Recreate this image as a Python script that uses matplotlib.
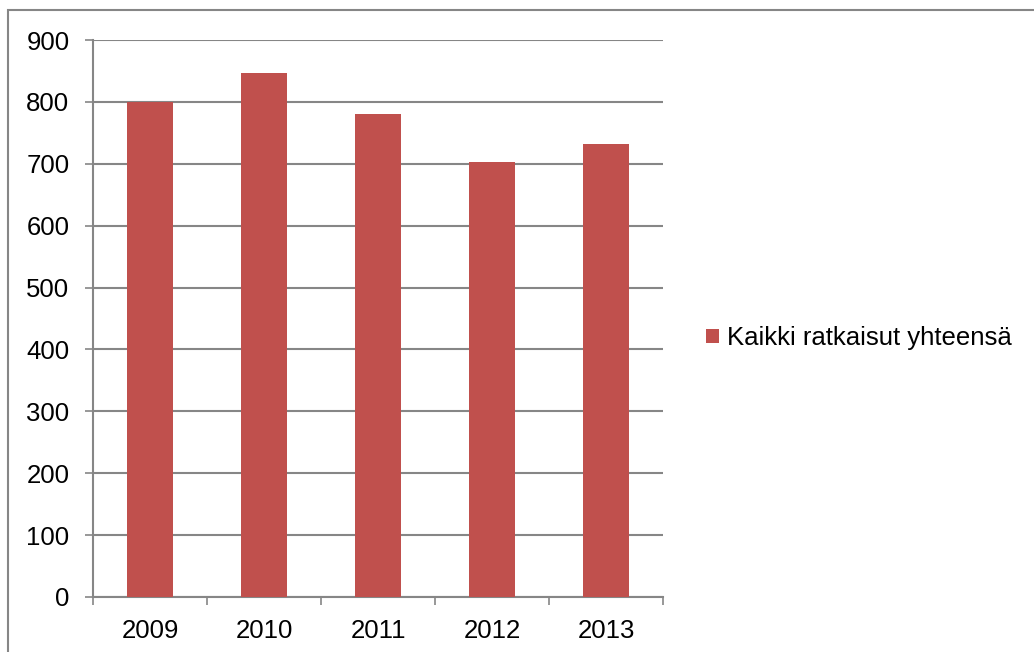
import matplotlib as mpl
import matplotlib.pyplot as plt
from matplotlib.patches import Rectangle

mpl.rcParams['font.family'] = ['Liberation Sans', 'DejaVu Sans']
mpl.rcParams['font.size'] = 18.5

# data
years = ['2009', '2010', '2011', '2012', '2013']
totals = [800, 846, 780, 703, 732]
series_name = 'Kaikki ratkaisut yhteensä'

bar_color = '#C0504D'
grid_color = '#868686'

fig = plt.figure(figsize=(10.34, 6.52), dpi=100)
W, H = 1034, 652

# outer chart border
fig.patches.append(Rectangle((8 / W, -0.01), 1.02, 1 - 10 / H + 0.01,
                             transform=fig.transFigure, fill=False,
                             edgecolor=grid_color, linewidth=1.5))

ax = fig.add_axes([93 / W, 1 - 597 / H, 570 / W, 557 / H])

x = list(range(len(years)))
ax.bar(x, totals, width=0.4, color=bar_color, zorder=3)

ax.set_xlim(-0.5, len(years) - 0.5)
ax.set_ylim(0, 900)
ax.set_yticks(range(0, 901, 100))
ax.yaxis.grid(True, color=grid_color, linewidth=1.5, zorder=0)

ax.set_xticks([i - 0.5 for i in range(len(years) + 1)], minor=False)
ax.set_xticklabels([])
ax.set_xticks(x, minor=True)
ax.set_xticklabels(years, minor=True)
ax.tick_params(axis='x', which='major', length=6, width=1.2, color=grid_color, direction='out')
ax.tick_params(axis='x', which='minor', length=0, pad=15.5)
ax.tick_params(axis='y', length=6, width=1.2, color=grid_color, direction='out', pad=11)

for s in ['top', 'right']:
    ax.spines[s].set_visible(False)
for s in ['left', 'bottom']:
    ax.spines[s].set_color(grid_color)
    ax.spines[s].set_linewidth(1.5)

ax.legend([series_name], loc='center left', bbox_to_anchor=(1.035, 0.465),
          frameon=False, handlelength=0.5, handleheight=0.5, handletextpad=0.3,
          fontsize=18.5)

fig.savefig('out.png', dpi=100)
